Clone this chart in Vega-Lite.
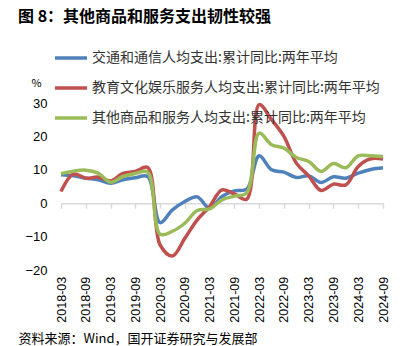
{
  "$schema": "https://vega.github.io/schema/vega-lite/v6.json",
  "width": 322,
  "height": 167,
  "autosize": {"type": "none"},
  "padding": {"left": 61, "top": 103, "right": 28, "bottom": 76},
  "background": "white",
  "title": {
    "text": "图 8：其他商品和服务支出韧性较强",
    "anchor": "start",
    "frame": "group",
    "dx": -43,
    "offset": 15,
    "fontSize": 16,
    "fontWeight": "bold",
    "font": "Noto Sans CJK SC",
    "color": "#000000"
  },
  "config": {
    "view": {"stroke": null},
    "font": "Noto Sans CJK SC"
  },
  "data": {
    "values": [
      {"date": "2018-03", "series": "交通和通信人均支出:累计同比:两年平均", "value": 8.5},
      {"date": "2018-06", "series": "交通和通信人均支出:累计同比:两年平均", "value": 8.2},
      {"date": "2018-09", "series": "交通和通信人均支出:累计同比:两年平均", "value": 7.5},
      {"date": "2018-12", "series": "交通和通信人均支出:累计同比:两年平均", "value": 7.0},
      {"date": "2019-03", "series": "交通和通信人均支出:累计同比:两年平均", "value": 6.0},
      {"date": "2019-06", "series": "交通和通信人均支出:累计同比:两年平均", "value": 7.0},
      {"date": "2019-09", "series": "交通和通信人均支出:累计同比:两年平均", "value": 7.6},
      {"date": "2019-12", "series": "交通和通信人均支出:累计同比:两年平均", "value": 8.0},
      {"date": "2020-03", "series": "交通和通信人均支出:累计同比:两年平均", "value": -5.8},
      {"date": "2020-06", "series": "交通和通信人均支出:累计同比:两年平均", "value": -2.0},
      {"date": "2020-09", "series": "交通和通信人均支出:累计同比:两年平均", "value": 0.5},
      {"date": "2020-12", "series": "交通和通信人均支出:累计同比:两年平均", "value": 1.9},
      {"date": "2021-03", "series": "交通和通信人均支出:累计同比:两年平均", "value": -1.5},
      {"date": "2021-06", "series": "交通和通信人均支出:累计同比:两年平均", "value": 2.0},
      {"date": "2021-09", "series": "交通和通信人均支出:累计同比:两年平均", "value": 3.7},
      {"date": "2021-12", "series": "交通和通信人均支出:累计同比:两年平均", "value": 4.2},
      {"date": "2022-03", "series": "交通和通信人均支出:累计同比:两年平均", "value": 14.2},
      {"date": "2022-06", "series": "交通和通信人均支出:累计同比:两年平均", "value": 10.0},
      {"date": "2022-09", "series": "交通和通信人均支出:累计同比:两年平均", "value": 9.3},
      {"date": "2022-12", "series": "交通和通信人均支出:累计同比:两年平均", "value": 7.7},
      {"date": "2023-03", "series": "交通和通信人均支出:累计同比:两年平均", "value": 8.2},
      {"date": "2023-06", "series": "交通和通信人均支出:累计同比:两年平均", "value": 6.2},
      {"date": "2023-09", "series": "交通和通信人均支出:累计同比:两年平均", "value": 7.9},
      {"date": "2023-12", "series": "交通和通信人均支出:累计同比:两年平均", "value": 7.5},
      {"date": "2024-03", "series": "交通和通信人均支出:累计同比:两年平均", "value": 9.0},
      {"date": "2024-06", "series": "交通和通信人均支出:累计同比:两年平均", "value": 10.1},
      {"date": "2024-09", "series": "交通和通信人均支出:累计同比:两年平均", "value": 10.6},
      {"date": "2018-03", "series": "教育文化娱乐服务人均支出:累计同比:两年平均", "value": 3.5},
      {"date": "2018-06", "series": "教育文化娱乐服务人均支出:累计同比:两年平均", "value": 8.7},
      {"date": "2018-09", "series": "教育文化娱乐服务人均支出:累计同比:两年平均", "value": 7.5},
      {"date": "2018-12", "series": "教育文化娱乐服务人均支出:累计同比:两年平均", "value": 7.8},
      {"date": "2019-03", "series": "教育文化娱乐服务人均支出:累计同比:两年平均", "value": 6.7},
      {"date": "2019-06", "series": "教育文化娱乐服务人均支出:累计同比:两年平均", "value": 8.9},
      {"date": "2019-09", "series": "教育文化娱乐服务人均支出:累计同比:两年平均", "value": 9.5},
      {"date": "2019-12", "series": "教育文化娱乐服务人均支出:累计同比:两年平均", "value": 10.7},
      {"date": "2020-03", "series": "教育文化娱乐服务人均支出:累计同比:两年平均", "value": -12.5},
      {"date": "2020-06", "series": "教育文化娱乐服务人均支出:累计同比:两年平均", "value": -15.8},
      {"date": "2020-09", "series": "教育文化娱乐服务人均支出:累计同比:两年平均", "value": -10.5},
      {"date": "2020-12", "series": "教育文化娱乐服务人均支出:累计同比:两年平均", "value": -5.0},
      {"date": "2021-03", "series": "教育文化娱乐服务人均支出:累计同比:两年平均", "value": -1.0},
      {"date": "2021-06", "series": "教育文化娱乐服务人均支出:累计同比:两年平均", "value": 4.0},
      {"date": "2021-09", "series": "教育文化娱乐服务人均支出:累计同比:两年平均", "value": 2.8},
      {"date": "2021-12", "series": "教育文化娱乐服务人均支出:累计同比:两年平均", "value": 1.2},
      {"date": "2022-03", "series": "教育文化娱乐服务人均支出:累计同比:两年平均", "value": 29.5},
      {"date": "2022-06", "series": "教育文化娱乐服务人均支出:累计同比:两年平均", "value": 25.0},
      {"date": "2022-09", "series": "教育文化娱乐服务人均支出:累计同比:两年平均", "value": 20.0},
      {"date": "2022-12", "series": "教育文化娱乐服务人均支出:累计同比:两年平均", "value": 12.0},
      {"date": "2023-03", "series": "教育文化娱乐服务人均支出:累计同比:两年平均", "value": 8.2},
      {"date": "2023-06", "series": "教育文化娱乐服务人均支出:累计同比:两年平均", "value": 3.8},
      {"date": "2023-09", "series": "教育文化娱乐服务人均支出:累计同比:两年平均", "value": 5.7},
      {"date": "2023-12", "series": "教育文化娱乐服务人均支出:累计同比:两年平均", "value": 5.5},
      {"date": "2024-03", "series": "教育文化娱乐服务人均支出:累计同比:两年平均", "value": 11.0},
      {"date": "2024-06", "series": "教育文化娱乐服务人均支出:累计同比:两年平均", "value": 13.3},
      {"date": "2024-09", "series": "教育文化娱乐服务人均支出:累计同比:两年平均", "value": 13.2},
      {"date": "2018-03", "series": "其他商品和服务人均支出:累计同比:两年平均", "value": 8.8},
      {"date": "2018-06", "series": "其他商品和服务人均支出:累计同比:两年平均", "value": 9.6},
      {"date": "2018-09", "series": "其他商品和服务人均支出:累计同比:两年平均", "value": 9.9},
      {"date": "2018-12", "series": "其他商品和服务人均支出:累计同比:两年平均", "value": 9.0},
      {"date": "2019-03", "series": "其他商品和服务人均支出:累计同比:两年平均", "value": 6.3},
      {"date": "2019-06", "series": "其他商品和服务人均支出:累计同比:两年平均", "value": 8.0},
      {"date": "2019-09", "series": "其他商品和服务人均支出:累计同比:两年平均", "value": 8.9},
      {"date": "2019-12", "series": "其他商品和服务人均支出:累计同比:两年平均", "value": 9.3},
      {"date": "2020-03", "series": "其他商品和服务人均支出:累计同比:两年平均", "value": -9.3},
      {"date": "2020-06", "series": "其他商品和服务人均支出:累计同比:两年平均", "value": -8.4},
      {"date": "2020-09", "series": "其他商品和服务人均支出:累计同比:两年平均", "value": -6.0},
      {"date": "2020-12", "series": "其他商品和服务人均支出:累计同比:两年平均", "value": -2.2},
      {"date": "2021-03", "series": "其他商品和服务人均支出:累计同比:两年平均", "value": -1.7},
      {"date": "2021-06", "series": "其他商品和服务人均支出:累计同比:两年平均", "value": 1.0},
      {"date": "2021-09", "series": "其他商品和服务人均支出:累计同比:两年平均", "value": 2.1},
      {"date": "2021-12", "series": "其他商品和服务人均支出:累计同比:两年平均", "value": 3.1},
      {"date": "2022-03", "series": "其他商品和服务人均支出:累计同比:两年平均", "value": 21.0},
      {"date": "2022-06", "series": "其他商品和服务人均支出:累计同比:两年平均", "value": 17.5},
      {"date": "2022-09", "series": "其他商品和服务人均支出:累计同比:两年平均", "value": 16.5},
      {"date": "2022-12", "series": "其他商品和服务人均支出:累计同比:两年平均", "value": 13.7},
      {"date": "2023-03", "series": "其他商品和服务人均支出:累计同比:两年平均", "value": 12.5},
      {"date": "2023-06", "series": "其他商品和服务人均支出:累计同比:两年平均", "value": 9.5},
      {"date": "2023-09", "series": "其他商品和服务人均支出:累计同比:两年平均", "value": 11.9},
      {"date": "2023-12", "series": "其他商品和服务人均支出:累计同比:两年平均", "value": 10.6},
      {"date": "2024-03", "series": "其他商品和服务人均支出:累计同比:两年平均", "value": 14.2},
      {"date": "2024-06", "series": "其他商品和服务人均支出:累计同比:两年平均", "value": 14.2},
      {"date": "2024-09", "series": "其他商品和服务人均支出:累计同比:两年平均", "value": 14.0}
    ]
  },
  "mark": {"type": "line", "interpolate": "catmull-rom", "strokeWidth": 3.5},
  "encoding": {
    "x": {
      "field": "date",
      "type": "ordinal",
      "sort": null,
      "scale": {"type": "point", "padding": 0},
      "axis": {
        "orient": "bottom",
        "offset": -66.7,
        "values": ["2018-03", "2018-09", "2019-03", "2019-09", "2020-03", "2020-09", "2021-03", "2021-09", "2022-03", "2022-09", "2023-03", "2023-09", "2024-03", "2024-09"],
        "labelAngle": -90,
        "labelFontSize": 12.5,
        "labelColor": "#000000",
        "labelFont": "Liberation Sans",
        "labelPadding": 68,
        "domainColor": "#d9d9d9",
        "domainWidth": 1.5,
        "tickColor": "#d9d9d9",
        "tickWidth": 1.5,
        "tickSize": 5,
        "title": "资料来源：Wind，国开证券研究与发展部",
        "titleX": -43,
        "titleY": 134.7,
        "titleAlign": "left",
        "titleAnchor": "start",
        "titleBaseline": "middle",
        "titleFontSize": 13,
        "titleFontWeight": "normal",
        "titleColor": "#000000"
      }
    },
    "y": {
      "field": "value",
      "type": "quantitative",
      "scale": {"domain": [-20, 30], "nice": false, "zero": false},
      "axis": {
        "values": [-20, -10, 0, 10, 20, 30],
        "grid": false,
        "domain": false,
        "ticks": false,
        "labelPadding": 14,
        "labelFontSize": 13,
        "labelFont": "Liberation Sans",
        "labelColor": "#000000",
        "title": "%",
        "titleAngle": 0,
        "titleX": -25,
        "titleY": -20,
        "titleAlign": "center",
        "titleBaseline": "middle",
        "titleFontSize": 11,
        "titleFontWeight": "normal",
        "titleColor": "#000000"
      }
    },
    "color": {
      "field": "series",
      "type": "nominal",
      "sort": ["交通和通信人均支出:累计同比:两年平均", "教育文化娱乐服务人均支出:累计同比:两年平均", "其他商品和服务人均支出:累计同比:两年平均"],
      "scale": {
        "domain": ["交通和通信人均支出:累计同比:两年平均", "教育文化娱乐服务人均支出:累计同比:两年平均", "其他商品和服务人均支出:累计同比:两年平均"],
        "range": ["#4F81BD", "#C0504D", "#9BBB59"]
      },
      "legend": {
        "orient": "none",
        "legendX": -8,
        "legendY": -63,
        "title": null,
        "symbolType": "stroke",
        "symbolSize": 1024,
        "symbolStrokeWidth": 3.5,
        "labelFontSize": 14,
        "labelColor": "#333333",
        "labelOffset": 3,
        "labelLimit": 400,
        "rowPadding": 5,
        "padding": 0
      }
    }
  }
}
